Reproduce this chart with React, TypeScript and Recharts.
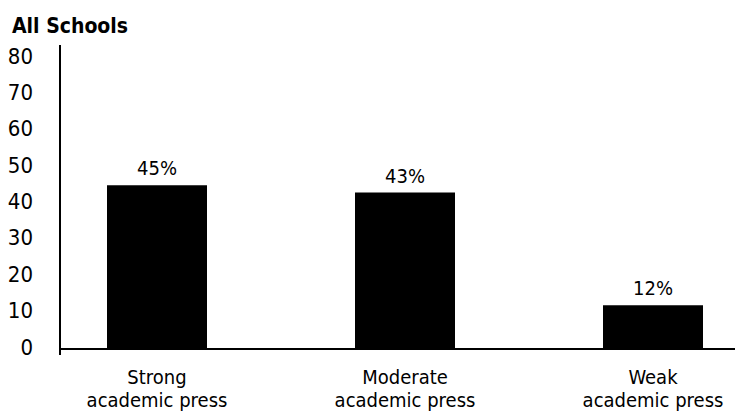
import { BarChart, Bar, XAxis, YAxis, LabelList, ReferenceLine } from "recharts";

const categories = ["Strong|academic press", "Moderate|academic press", "Weak|academic press"];
const shares = [45, 43, 12];
const yTicks = [0, 10, 20, 30, 40, 50, 60, 70, 80];

const data = categories.map((c, i) => ({ name: c, value: shares[i] }));

const FONT = '"Liberation Sans Narrow", "DejaVu Sans Condensed", "Liberation Sans", sans-serif';

function CategoryTick({ x, y, payload }: any) {
  const lines = String(payload.value).split("|");
  return (
    <text x={x} y={y} textAnchor="middle" fontFamily={FONT} fontSize={20} fill="#000">
      {lines.map((l, i) => (
        <tspan key={i} x={x} dy={i === 0 ? 21 : 23}>
          {l}
        </tspan>
      ))}
    </text>
  );
}

function ValueTick({ x, y, payload }: any) {
  return (
    <text x={x} y={y} dy={-2} textAnchor="end" dominantBaseline="central" fontFamily={FONT} fontSize={22} fill="#000">
      {payload.value}
    </text>
  );
}

export default function App() {
  return (
    <div style={{ position: "absolute", left: 0, top: 0, width: 739, height: 414, background: "#fff" }}>
      <div
        style={{
          position: "absolute",
          left: 12,
          top: 13,
          fontFamily: FONT,
          fontWeight: "bold",
          fontSize: 21,
          lineHeight: "26px",
          color: "#000",
        }}
      >
        All Schools
      </div>
      <BarChart
        width={739}
        height={414}
        data={data}
        margin={{ top: 45, right: 4, bottom: 9, left: 0 }}
      >
        <YAxis
          width={60}
          domain={[0, 80]}
          ticks={yTicks}
          interval={0}
          padding={{ top: 13, bottom: 6 }}
          tickLine={false}
          tickSize={0}
          tickMargin={27}
          axisLine={{ stroke: "#000", strokeWidth: 2 }}
          tick={<ValueTick />}
        />
        <XAxis
          dataKey="name"
          height={50}
          padding={{ left: -27, right: -42 }}
          axisLine={false}
          tickLine={false}
          tick={<CategoryTick />}
          interval={0}
        />
        <ReferenceLine y={0} stroke="#000" strokeWidth={2} />
        <Bar dataKey="value" fill="#000" barSize={100} isAnimationActive={false}>
          <LabelList
            dataKey="value"
            position="top"
            offset={10}
            formatter={(v: any) => `${v}%`}
            fill="#000"
            fontSize={20}
            fontFamily={FONT}
          />
        </Bar>
      </BarChart>
    </div>
  );
}
